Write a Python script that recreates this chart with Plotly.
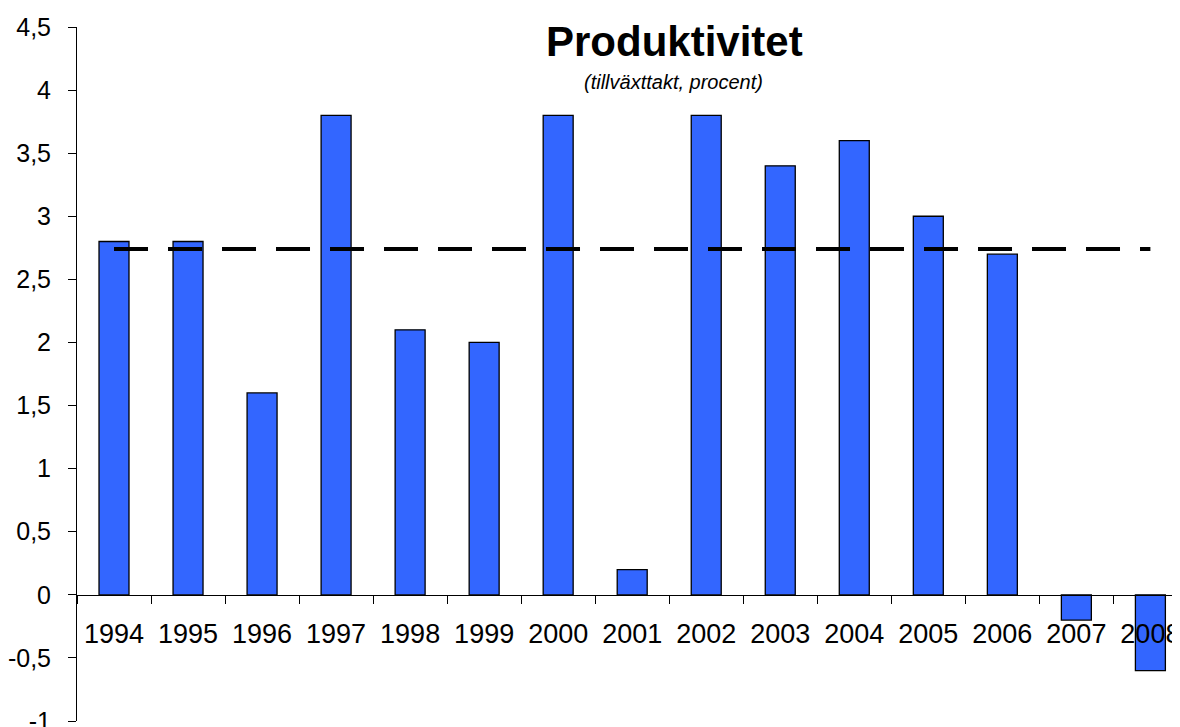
import plotly.graph_objects as go

years = ["1994", "1995", "1996", "1997", "1998", "1999", "2000", "2001",
         "2002", "2003", "2004", "2005", "2006", "2007", "2008"]
growth = [2.8, 2.8, 1.6, 3.8, 2.1, 2.0, 3.8, 0.2, 3.8, 3.4, 3.6, 3.0, 2.7, -0.2, -0.6]
average = 2.74

y_ticks = [-1, -0.5, 0, 0.5, 1, 1.5, 2, 2.5, 3, 3.5, 4, 4.5]
y_labels = ["-1", "-0,5", "0", "0,5", "1", "1,5", "2", "2,5", "3", "3,5", "4", "4,5"]

# the page body adds an 8px margin, so the figure is drawn 8px smaller
W, H = 1172, 719
L, R, T, B = 69, 0, 19, 6
y_min, y_max = -1, 4.5

fig = go.Figure()
fig.add_trace(go.Bar(
    x=years, y=growth, width=0.405,
    marker=dict(color="#3366FF", line=dict(color="black", width=1.3)),
))
fig.add_trace(go.Scatter(
    x=years, y=[average] * len(years), mode="lines",
    line=dict(color="black", width=4, dash="34px,20px"),
))

zero_pos = (0 - y_min) / (y_max - y_min)
font = "Liberation Sans, Arial, sans-serif"
plot_w = W - L - R
plot_h = H - T - B


def px_to_paper(x, y):
    # screen pixel (reference coords) -> paper coords
    return (x - 8 - L) / plot_w, (H - B - (y - 8)) / plot_h


tx, ty = px_to_paper(674, 41)
sx, sy = px_to_paper(673, 82)

fig.update_layout(
    width=W, height=H,
    margin=dict(l=L, r=R, t=T, b=B),
    plot_bgcolor="white", paper_bgcolor="white",
    showlegend=False,
    font=dict(family=font, color="black", size=25),
    xaxis=dict(
        type="category", range=[-0.5, 14.4], automargin=False,
        anchor="free", position=zero_pos,
        showline=True, linecolor="black", linewidth=1,
        ticks="outside", tickson="boundaries", ticklen=8, tickcolor="black",
        tickfont=dict(size=27), ticklabelstandoff=15, ticklabeloverflow="allow",
        showgrid=False, zeroline=False,
    ),
    yaxis=dict(
        range=[y_min, y_max], tickvals=y_ticks, ticktext=y_labels, automargin=False,
        showline=True, linecolor="black", linewidth=1,
        ticks="outside", ticklen=8, tickcolor="black",
        tickfont=dict(size=25), ticklabelstandoff=12, ticklabeloverflow="allow",
        showgrid=False, zeroline=False,
    ),
    annotations=[
        dict(text="<b>Produktivitet</b>", x=tx, y=ty, xanchor="center", yanchor="middle",
             xref="paper", yref="paper", showarrow=False, font=dict(size=42)),
        dict(text="<i>(tillväxttakt, procent)</i>", x=sx, y=sy, xanchor="center", yanchor="middle",
             xref="paper", yref="paper", showarrow=False, font=dict(size=20)),
    ],
)

fig.write_html("out.html")
